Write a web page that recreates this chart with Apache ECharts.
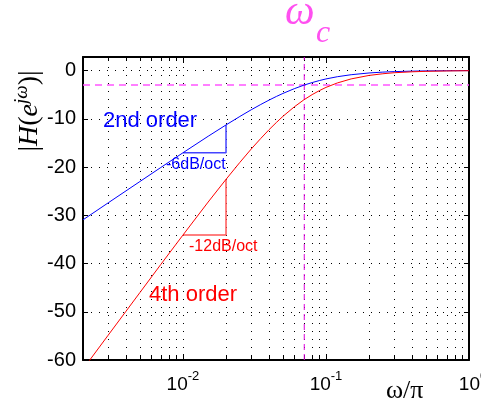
<!DOCTYPE html>
<html><head><meta charset="utf-8">
<script src="https://cdn.jsdelivr.net/npm/echarts@6/dist/echarts.min.js"></script>
<style>html,body{margin:0;padding:0;background:#fff}#c{width:481px;height:402px}</style>
</head><body><div id="c"></div>
<script>
// ---- data ----
const freq = [0.002,0.003,0.004,0.005,0.007,0.01,0.015,0.02,0.025,0.03,0.035,0.04,0.045,0.05,0.06,0.07,0.08,0.09,0.1,0.12,0.15,0.2,0.25,0.3,0.4,0.5,0.7,1.0];
const secondOrder = [-30.95,-27.43,-24.94,-23.01,-20.10,-17.05,-13.63,-11.28,-9.52,-8.14,-7.04,-6.13,-5.38,-4.75,-3.77,-3.04,-2.50,-2.08,-1.75,-1.29,-0.87,-0.51,-0.33,-0.23,-0.13,-0.085,-0.044,-0.02];
const fourthOrder = [-61.9,-54.86,-49.88,-46.02,-40.2,-34.1,-27.26,-22.56,-19.04,-16.28,-14.08,-12.26,-10.77,-9.5,-7.54,-6.08,-5.0,-4.16,-3.5,-2.58,-1.74,-1.02,-0.67,-0.46,-0.27,-0.17,-0.09,-0.04];
const yTicks = [0,-10,-20,-30,-40,-50,-60];
const xTickLabels = ['10^-2','10^-1','10^0'];
const xGridValues = [0.002,0.003,0.004,0.005,0.006,0.007,0.008,0.009,0.01,0.02,0.03,0.04,0.05,0.06,0.07,0.08,0.09,0.1,0.2,0.3,0.4,0.5,0.6,0.7,0.8,0.9,1];
const cutoffW = 0.0705;
const cutoffDb = -3;
const slopeFrom = 0.01, slopeTo = 0.02;
const X_MIN = 0.002, X_MAX = 1, Y_MIN = -60, Y_MAX = 2.8;

const iFrom = freq.indexOf(slopeFrom), iTo = freq.indexOf(slopeTo);
const blueTri = [[slopeFrom, secondOrder[iFrom]],[slopeTo, secondOrder[iFrom]],[slopeTo, secondOrder[iTo]]];
const redTri = [[slopeFrom, fourthOrder[iFrom]],[slopeTo, fourthOrder[iFrom]],[slopeTo, fourthOrder[iTo]]];

const chart = echarts.init(document.getElementById('c'), null, {renderer:'canvas'});
const isPow10 = v => Math.abs(Math.log10(v) - Math.round(Math.log10(v))) < 1e-6;
const SANS = 'Liberation Sans, Arial, sans-serif';
const SERIF = 'Liberation Serif, Times New Roman, serif';

chart.setOption({
  animation:false,
  grid:{left:83, right:12, top:57, bottom:42, containLabel:false, outerBoundsMode:'none'},
  xAxis:[{
    type:'log', logBase:10, min:X_MIN, max:X_MAX, position:'bottom',
    axisLine:{show:true, onZero:false, lineStyle:{color:'#000', width:2}},
    axisTick:{show:false}, splitLine:{show:false}, minorTick:{show:false},
    axisLabel:{
      margin:10, showMinLabel:true, showMaxLabel:true, hideOverlap:false,
      formatter: v => {
        if (!isPow10(v)) return '';
        const e = Math.round(Math.log10(v));
        const lab = xTickLabels.find(s => s === '10^' + e) || ('10^' + e);
        const parts = lab.split('^');
        if (e === 0) return '{b0|' + parts[0] + '}{s|' + parts[1] + '}';
        return '{b|' + parts[0] + '}{s|' + parts[1] + '}';
      },
      rich:{
        b:{fontFamily:SANS, fontSize:19, color:'#000', verticalAlign:'bottom', lineHeight:24},
        b0:{fontFamily:SANS, fontSize:19, color:'#000', verticalAlign:'bottom', lineHeight:24, padding:[0,0,0,8]},
        s:{fontFamily:SANS, fontSize:13, color:'#000', verticalAlign:'top', lineHeight:24, padding:[0,0,10,0]}
      }
    }
  },{
    type:'log', logBase:10, min:X_MIN, max:X_MAX, position:'top',
    axisLine:{show:true, onZero:false, lineStyle:{color:'#000', width:2}},
    axisTick:{show:false}, splitLine:{show:false}, axisLabel:{show:false}
  }],
  yAxis:[{
    type:'value', min:Y_MIN, max:Y_MAX, interval:10, position:'left',
    axisLine:{show:true, onZero:false, lineStyle:{color:'#000', width:2}},
    axisTick:{show:true, inside:true, length:5, lineStyle:{color:'#000'}},
    splitLine:{show:true, lineStyle:{color:'#000', type:[1,7], width:1}},
    axisLabel:{fontFamily:SANS, fontSize:20, color:'#000', margin:7,
      formatter: v => yTicks.indexOf(v) >= 0 ? String(v) : ''}
  },{
    type:'value', min:Y_MIN, max:Y_MAX, interval:10, position:'right',
    axisLine:{show:true, onZero:false, lineStyle:{color:'#000', width:2}},
    axisTick:{show:true, inside:true, length:5, lineStyle:{color:'#000'}},
    splitLine:{show:false}, axisLabel:{show:false}
  }],
  series:[
    {
      type:'custom', name:'xgrid', xAxisIndex:0, yAxisIndex:0, z:1, silent:true,
      data: xGridValues.map(v => [v]),
      renderItem: (params, api) => {
        const v = api.value(0);
        const top = api.coord([v, Y_MAX]);
        const bot = api.coord([v, Y_MIN]);
        const x = Math.round(top[0]) + 0.5;
        const major = isPow10(v);
        const tl = major ? 6 : 4;
        return {type:'group', children:[
          {type:'line', shape:{x1:x, y1:top[1]+2, x2:x, y2:bot[1]-2}, style:{stroke:'#000', lineWidth:1, lineDash:[1,7]}},
          {type:'line', shape:{x1:x, y1:top[1], x2:x, y2:top[1]+tl}, style:{stroke:'#000', lineWidth:1}},
          {type:'line', shape:{x1:x, y1:bot[1], x2:x, y2:bot[1]-tl}, style:{stroke:'#000', lineWidth:1}}
        ]};
      }
    },
    {type:'line', name:'cutoffH', data:[[X_MIN, cutoffDb],[X_MAX, cutoffDb]], symbol:'none', z:3,
      lineStyle:{color:'#ff55ff', width:1.5, type:[7,5]}},
    {type:'line', name:'cutoffV', data:[[cutoffW, Y_MIN],[cutoffW, Y_MAX]], symbol:'none', z:3,
      lineStyle:{color:'#dd00dd', width:1, type:[6,4]}},
    {type:'line', name:'2nd order', data:freq.map((f,i)=>[f, secondOrder[i]]), symbol:'none', z:5, clip:true,
      lineStyle:{color:'#0000ff', width:1}},
    {type:'line', name:'4th order', data:freq.map((f,i)=>[f, fourthOrder[i]]), symbol:'none', z:5, clip:true,
      lineStyle:{color:'#ff0000', width:1}},
    {type:'line', name:'slope2', data:blueTri, symbol:'none', z:4,
      lineStyle:{color:'#4444ff', width:1.5}},
    {type:'line', name:'slope4', data:redTri, symbol:'none', z:4,
      lineStyle:{color:'#ff5555', width:1.5}}
  ],
  graphic:[
    {type:'text', x:103, y:121, z:10, style:{text:'2nd order', fill:'#0000ff', font:'22px '+SANS, verticalAlign:'middle'}},
    {type:'text', x:149, y:295, z:10, style:{text:'4th order', fill:'#ff0000', font:'22px '+SANS, verticalAlign:'middle'}},
    {type:'text', x:166, y:165, z:10, style:{text:'-6dB/oct', fill:'#0000ff', font:'16px '+SANS, verticalAlign:'middle'}},
    {type:'text', x:189, y:247, z:10, style:{text:'-12dB/oct', fill:'#ff0000', font:'16px '+SANS, verticalAlign:'middle'}},
    {type:'text', x:386, y:391, z:10, style:{text:'ω/π', fill:'#000', font:'26px '+SERIF, verticalAlign:'middle'}},
    {type:'text', x:285, y:34, z:10, style:{text:'ω', fill:'#ff50f0', font:'italic 42px '+SERIF, verticalAlign:'bottom'}},
    {type:'text', x:316, y:50, z:10, style:{text:'c', fill:'#ff50f0', font:'italic 32px '+SERIF, verticalAlign:'bottom'}},
    {type:'text', x:28, y:111, rotation:Math.PI/2, z:10, style:{
      text:'{n||}{i|H}{n|(}{i|e}{s|jω}{n|)}{n||}', align:'center', verticalAlign:'middle',
      rich:{
        n:{fontFamily:SERIF, fontSize:28, fill:'#000', verticalAlign:'bottom', lineHeight:32},
        i:{fontFamily:SERIF, fontStyle:'italic', fontSize:28, fill:'#000', verticalAlign:'bottom', lineHeight:32},
        s:{fontFamily:SERIF, fontStyle:'italic', fontSize:19, fill:'#000', verticalAlign:'top', lineHeight:32}
      }}}
  ]
});
</script></body></html>
